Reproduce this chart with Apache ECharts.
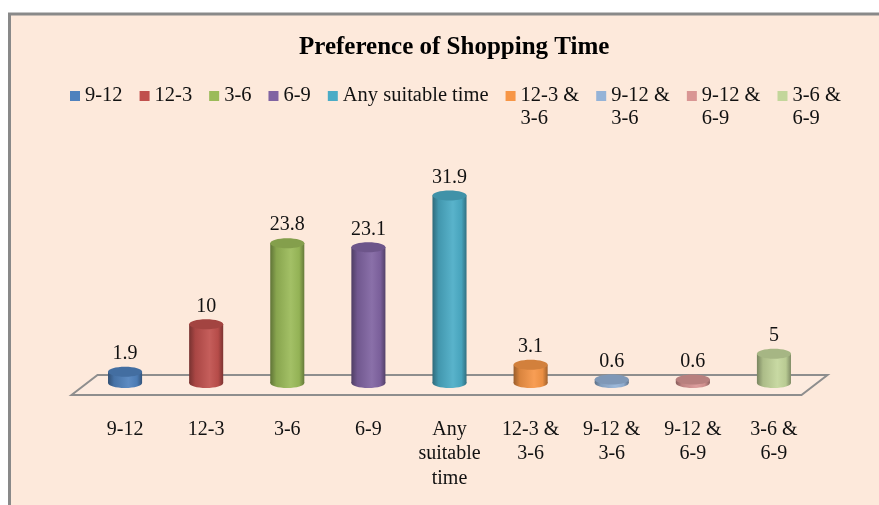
<!DOCTYPE html>
<html>
<head>
<meta charset="utf-8">
<script src="https://cdn.jsdelivr.net/npm/echarts@6/dist/echarts.min.js"></script>
<style>
html,body{margin:0;padding:0;background:#ffffff;}
#chart{width:879px;height:505px;}
</style>
</head>
<body>
<div id="chart"></div>
<script>
// ---- data ----
var categories = ['9-12', '12-3', '3-6', '6-9', 'Any suitable time', '12-3 & 3-6', '9-12 & 3-6', '9-12 & 6-9', '3-6 & 6-9'];
var values = [1.9, 10, 23.8, 23.1, 31.9, 3.1, 0.6, 0.6, 5];
var axisLabels = ['9-12', '12-3', '3-6', '6-9', 'Any\nsuitable\ntime', '12-3 &\n3-6', '9-12 &\n3-6', '9-12 &\n6-9', '3-6 &\n6-9'];
var legendLabels = ['9-12', '12-3', '3-6', '6-9', 'Any suitable time', '12-3 &\n3-6', '9-12 &\n3-6', '9-12 &\n6-9', '3-6 &\n6-9'];
var colors = ['#4F81BD', '#C0504D', '#9BBB59', '#8064A2', '#4BACC6', '#F79646', '#95B3D7', '#D99694', '#C3D69B'];

var FONT = '"Liberation Serif", "Times New Roman", serif';

function hexToRgb(h) {
  h = h.replace('#', '');
  return [parseInt(h.substr(0, 2), 16), parseInt(h.substr(2, 2), 16), parseInt(h.substr(4, 2), 16)];
}
function shade(h, f) {
  var c = hexToRgb(h);
  var r = c.map(function (v) {
    var n = f < 0 ? v * (1 + f) : v + (255 - v) * f;
    return Math.max(0, Math.min(255, Math.round(n)));
  });
  return 'rgb(' + r.join(',') + ')';
}

function cylinderRender(color) {
  return function (params, api) {
    var idx = api.value(0);
    var val = api.value(1);
    var top = api.coord([idx, val]);
    var base = api.coord([idx, 0]);
    var w = api.size([1, 0])[0] * 0.42;
    var rx = w / 2, ry = 5;
    var cx = top[0];
    var grad = new echarts.graphic.LinearGradient(0, 0, 1, 0, [
      { offset: 0, color: shade(color, -0.38) },
      { offset: 0.18, color: shade(color, -0.12) },
      { offset: 0.6, color: shade(color, 0.08) },
      { offset: 0.85, color: shade(color, -0.05) },
      { offset: 1, color: shade(color, -0.35) }
    ]);
    return {
      type: 'group',
      children: [
        { type: 'ellipse', shape: { cx: cx, cy: base[1], rx: rx, ry: ry }, style: { fill: grad } },
        { type: 'rect', shape: { x: cx - rx, y: top[1], width: w, height: base[1] - top[1] }, style: { fill: grad } },
        { type: 'ellipse', shape: { cx: cx, cy: top[1], rx: rx, ry: ry }, style: { fill: shade(color, -0.15) } },
        { type: 'text', style: { text: String(val), x: cx, y: top[1] - 18, align: 'center', verticalAlign: 'middle', fontSize: 20, fontFamily: FONT, fill: '#111' } }
      ]
    };
  };
}

function floorRender(params, api) {
  var cs = params.coordSys;
  var y0 = api.coord([0, 0])[1] + 2;
  var l = cs.x, r = cs.x + cs.width;
  var dx = 13, dy = 10;
  return {
    type: 'polygon',
    shape: { points: [[l - dx, y0 + dy], [l + dx, y0 - dy], [r + dx, y0 - dy], [r - dx, y0 + dy]] },
    style: { fill: '#FDEBDF', stroke: '#8E8E8E', lineWidth: 2 }
  };
}

var series = [{
  type: 'custom',
  name: '_floor',
  silent: true,
  z: 1,
  renderItem: floorRender,
  data: [[0, 0]]
}];
categories.forEach(function (c, i) {
  series.push({
    type: 'custom',
    name: c,
    z: 3,
    itemStyle: { color: colors[i] },
    renderItem: cylinderRender(colors[i]),
    data: [[i, values[i]]]
  });
});

var legendData = categories.map(function (c, i) {
  return { name: c, itemStyle: { color: colors[i] } };
});

var chart = echarts.init(document.getElementById('chart'));
chart.setOption({
  backgroundColor: 'transparent',
  animation: false,
  graphic: [{
    type: 'rect',
    z: -10,
    silent: true,
    shape: { x: 9.5, y: 14, width: 900, height: 520 },
    style: { fill: '#FDE9DB', stroke: '#898989', lineWidth: 3 }
  }],
  title: {
    text: 'Preference of Shopping Time',
    left: 294,
    top: 30,
    textStyle: { fontFamily: FONT, fontSize: 25, fontWeight: 'bold', color: '#000' }
  },
  legend: {
    left: 70,
    top: 61.5,
    padding: 0,
    itemWidth: 10,
    itemHeight: 10,
    itemGap: 17,
    icon: 'rect',
    selectedMode: false,
    data: legendData,
    formatter: function (name) {
      var t = legendLabels[categories.indexOf(name)];
      // blank first line so that the first text line sits level with the icon
      return t.indexOf('\n') >= 0 ? ' \n' + t : t;
    },
    textStyle: { fontFamily: FONT, fontSize: 20.5, lineHeight: 23, color: '#111' }
  },
  grid: { left: 84.5, width: 730, top: 148, bottom: 122, containLabel: false },
  xAxis: {
    type: 'category',
    data: categories,
    axisLine: { show: false },
    axisTick: { show: false },
    axisLabel: {
      interval: 0,
      margin: 34,
      fontFamily: FONT,
      fontSize: 20,
      lineHeight: 24.5,
      color: '#111',
      formatter: function (v, i) { return axisLabels[i]; }
    }
  },
  yAxis: { type: 'value', min: 0, max: 40, show: false },
  series: series
});
</script>
</body>
</html>
